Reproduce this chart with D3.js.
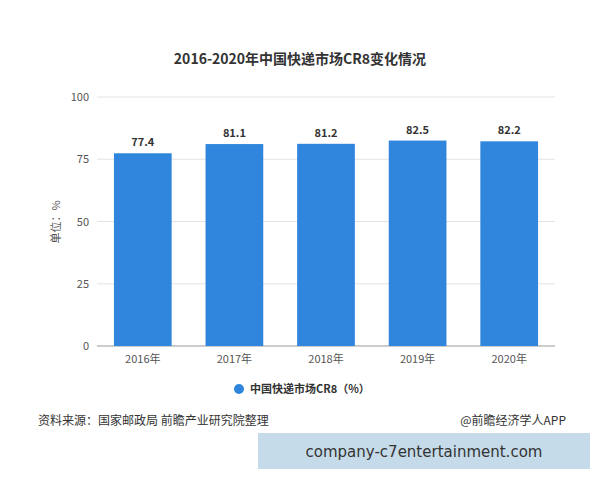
<!DOCTYPE html>
<html><head><meta charset="utf-8">
<script src="https://cdn.jsdelivr.net/npm/d3@7"></script>
<style>body{margin:0;background:#fff;font-family:"Noto Sans CJK SC","Noto Sans",sans-serif;}</style>
</head><body>
<svg id="c" width="600" height="480"></svg>
<script>
// chart data
var years = ["2016年", "2017年", "2018年", "2019年", "2020年"];
var cr8 = [77.4, 81.1, 81.2, 82.5, 82.2];
var ticks = [0, 25, 50, 75, 100];

var svg = d3.select("#c");
var m = {left: 97, right: 555, top: 97, bottom: 346};

var x = d3.scaleBand().domain(years).range([m.left, m.right]).paddingInner(0.37).paddingOuter(0.185);
var y = d3.scaleLinear().domain([0, 100]).range([m.bottom, m.top]);

svg.append("text").attr("x", 300).attr("y", 64).attr("text-anchor", "middle")
    .attr("font-size", 14).attr("font-weight", "bold").attr("fill", "#333")
    .text("2016-2020年中国快递市场CR8变化情况");

// grid lines
svg.selectAll(".grid").data(ticks).enter().append("line")
    .attr("x1", m.left).attr("x2", m.right)
    .attr("y1", d => y(d)).attr("y2", d => y(d))
    .attr("stroke", d => d === 0 ? "#999" : "#e3e3e3");

svg.selectAll(".yt").data(ticks).enter().append("text")
    .attr("x", m.left - 8).attr("y", d => y(d) + 4).attr("text-anchor", "end")
    .attr("font-size", 11).attr("fill", "#555").text(d => d);

svg.append("text").attr("transform", "translate(60,222) rotate(-90)")
    .attr("text-anchor", "middle").attr("font-size", 11).attr("fill", "#555").text("单位：%");

svg.selectAll(".bar").data(cr8).enter().append("rect")
    .attr("x", (d, i) => x(years[i])).attr("width", x.bandwidth())
    .attr("y", d => y(d)).attr("height", d => y(0) - y(d))
    .attr("fill", "#2f86dc");

svg.selectAll(".lab").data(cr8).enter().append("text")
    .attr("x", (d, i) => x(years[i]) + x.bandwidth() / 2).attr("y", d => y(d) - 7)
    .attr("text-anchor", "middle").attr("font-size", 11).attr("font-weight", "bold")
    .attr("fill", "#333").text(d => d.toFixed(1));

svg.selectAll(".xt").data(years).enter().append("text")
    .attr("x", d => x(d) + x.bandwidth() / 2).attr("y", 363)
    .attr("text-anchor", "middle").attr("font-size", 11).attr("fill", "#555").text(d => d);

// legend
svg.append("circle").attr("cx", 239).attr("cy", 389).attr("r", 5).attr("fill", "#2f86dc");
svg.append("text").attr("x", 250).attr("y", 393).attr("font-size", 11).attr("font-weight", "bold")
    .attr("fill", "#333").text("中国快递市场CR8（%）");

svg.append("text").attr("x", 38).attr("y", 425).attr("font-size", 12).attr("fill", "#333")
    .text("资料来源：国家邮政局 前瞻产业研究院整理");
svg.append("text").attr("x", 566).attr("y", 425).attr("text-anchor", "end").attr("font-size", 12)
    .attr("fill", "#333").text("@前瞻经济学人APP");

svg.append("rect").attr("x", 258).attr("y", 433).attr("width", 332).attr("height", 36).attr("fill", "#c5dbe9");
svg.append("text").attr("x", 424).attr("y", 457).attr("text-anchor", "middle").attr("font-size", 15)
    .attr("fill", "#333").attr("font-family", "DejaVu Sans, sans-serif").text("company-c7entertainment.com");
</script>
</body></html>
